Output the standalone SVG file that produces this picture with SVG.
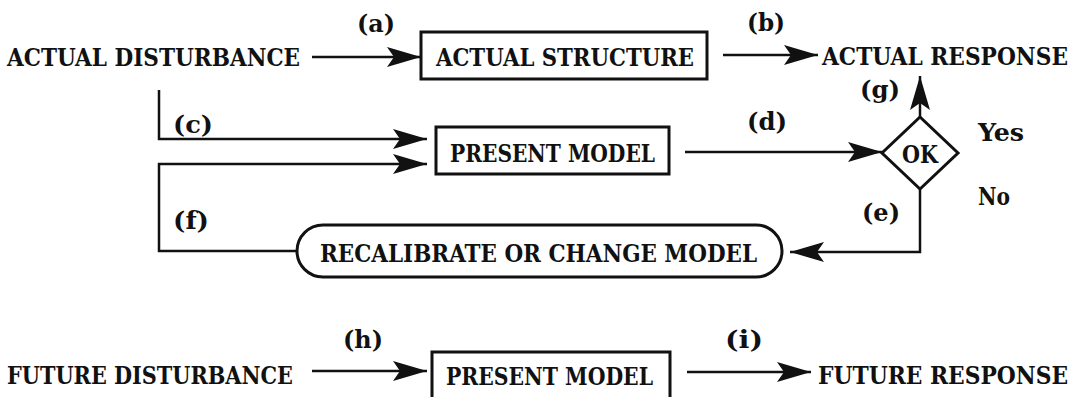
<svg xmlns="http://www.w3.org/2000/svg" width="1077" height="397" viewBox="0 0 1077 397">
<style>
text{font-family:"DejaVu Serif","Liberation Serif",serif;font-stretch:condensed;font-weight:bold;fill:#111;}
.t{font-size:25px;}
.l{font-size:24px;}
.box{fill:#fff;stroke:#111;stroke-width:3;}
.c{fill:none;stroke:#111;stroke-width:2.5;}
</style>
<defs>
<marker id="ah" markerUnits="userSpaceOnUse" markerWidth="36" markerHeight="22" refX="34" refY="10" orient="auto" overflow="visible">
<path d="M0,0 L34,10 L0,20 L7,10 Z" fill="#111"/>
</marker>
</defs>
<rect width="1077" height="397" fill="#fff"/>

<g id="connectors">
<line class="c" x1="312" y1="57" x2="421" y2="57" marker-end="url(#ah)"/>
<line class="c" x1="723" y1="55" x2="818" y2="55" marker-end="url(#ah)"/>
<polyline class="c" points="159,90 159,139 427,139" marker-end="url(#ah)"/>
<polyline class="c" points="297,251 159,251 159,164 427,164" marker-end="url(#ah)"/>
<line class="c" x1="685" y1="152" x2="882" y2="152" marker-end="url(#ah)"/>
<line class="c" x1="920" y1="117" x2="920" y2="76" marker-end="url(#ah)"/>
<polyline class="c" points="920,189 920,252 790,252" marker-end="url(#ah)"/>
<line class="c" x1="312" y1="371" x2="427" y2="371" marker-end="url(#ah)"/>
<line class="c" x1="687" y1="372" x2="811" y2="372" marker-end="url(#ah)"/>
<text class="l" x="357" y="32" textLength="38" lengthAdjust="spacingAndGlyphs">(a)</text>
<text class="l" x="747" y="31" textLength="38" lengthAdjust="spacingAndGlyphs">(b)</text>
<text class="l" x="173" y="133" textLength="40" lengthAdjust="spacingAndGlyphs">(c)</text>
<text class="l" x="747" y="130" textLength="40" lengthAdjust="spacingAndGlyphs">(d)</text>
<text class="l" x="862" y="221" textLength="38" lengthAdjust="spacingAndGlyphs">(e)</text>
<text class="l" x="173" y="229" textLength="36" lengthAdjust="spacingAndGlyphs">(f)</text>
<text class="l" x="860" y="98" textLength="40" lengthAdjust="spacingAndGlyphs">(g)</text>
<text class="l" x="343" y="348" textLength="40" lengthAdjust="spacingAndGlyphs">(h)</text>
<text class="l" x="725" y="348" textLength="38" lengthAdjust="spacingAndGlyphs">(i)</text>
<text class="l" x="978" y="141" textLength="46" lengthAdjust="spacingAndGlyphs">Yes</text>
<text class="l" x="978" y="205" textLength="32" lengthAdjust="spacingAndGlyphs">No</text>
</g>

<g id="actual-disturbance">
<text class="t" x="7" y="66" textLength="293" lengthAdjust="spacingAndGlyphs">ACTUAL DISTURBANCE</text>
</g>
<g id="actual-structure">
<rect class="box" x="421" y="32" width="286" height="47"/>
<text class="t" x="436" y="66" textLength="258" lengthAdjust="spacingAndGlyphs">ACTUAL STRUCTURE</text>
</g>
<g id="actual-response">
<text class="t" x="822" y="65" textLength="246" lengthAdjust="spacingAndGlyphs">ACTUAL RESPONSE</text>
</g>
<g id="present-model">
<rect class="box" x="436" y="127" width="233" height="47"/>
<text class="t" x="450" y="162" textLength="205" lengthAdjust="spacingAndGlyphs">PRESENT MODEL</text>
</g>
<g id="ok">
<polygon class="box" points="920,117 958,153 920,189 882,153"/>
<text class="t" x="920" y="163" text-anchor="middle" textLength="36" lengthAdjust="spacingAndGlyphs">OK</text>
</g>
<g id="recalibrate">
<rect class="box" x="297" y="225" width="485" height="52" rx="26" ry="26"/>
<text class="t" x="320" y="262" textLength="437" lengthAdjust="spacingAndGlyphs">RECALIBRATE OR CHANGE MODEL</text>
</g>
<g id="future-disturbance">
<text class="t" x="7" y="384" textLength="286" lengthAdjust="spacingAndGlyphs">FUTURE DISTURBANCE</text>
</g>
<g id="present-model-2">
<rect class="box" x="432" y="352" width="238" height="60"/>
<text class="t" x="446" y="385" textLength="207" lengthAdjust="spacingAndGlyphs">PRESENT MODEL</text>
</g>
<g id="future-response">
<text class="t" x="818" y="384" textLength="250" lengthAdjust="spacingAndGlyphs">FUTURE RESPONSE</text>
</g>
</svg>
